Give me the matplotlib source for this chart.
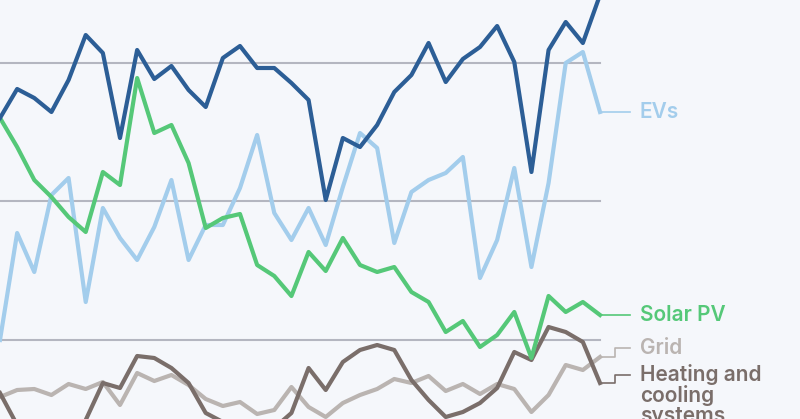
import numpy as np
import matplotlib.pyplot as plt

# values (screen units, larger = lower)
ev_other = [118, 89, 98, 112, 80, 35, 53, 138, 50, 79, 66, 90, 107, 58, 46, 68, 68, 83, 100,
            200, 138, 147, 125, 92, 75, 43, 82, 59, 47, 26, 62, 172, 50, 22, 43, -5]
evs = [340, 233, 272, 195, 178, 302, 208, 238, 260, 227, 180, 260, 225, 225, 188, 135, 213, 240, 208,
       245, 187, 133, 148, 243, 192, 180, 173, 157, 278, 240, 168, 267, 183, 63, 52, 112]
solar = [118, 147, 180, 197, 217, 232, 172, 185, 78, 133, 125, 163, 228, 218, 214, 265, 276, 296, 252,
         271, 238, 265, 272, 267, 292, 302, 332, 321, 347, 335, 312, 358, 296, 312, 302, 315]
heating = [393, 425, 435, 440, 435, 420, 383, 388, 356, 358, 368, 383, 413, 422, 428, 430, 428, 413, 368,
           390, 362, 350, 345, 350, 380, 400, 417, 412, 403, 388, 352, 360, 327, 332, 342, 383]
grid = [397, 390, 389, 395, 384, 389, 382, 405, 373, 381, 375, 385, 399, 406, 402, 414, 410, 387, 407,
        417, 403, 395, 389, 379, 383, 376, 391, 384, 394, 384, 389, 412, 395, 365, 370, 357]
gridlines = [63, 201, 340]

plt.rcParams['font.family'] = ['Inter', 'DejaVu Sans']

x = np.arange(len(evs))
step = 600 / 35

fig = plt.figure(figsize=(8, 4.19), dpi=100)
fig.patch.set_facecolor("#f5f7fb")
ax = fig.add_axes([0, 0, 1, 1])
ax.set_facecolor("#f5f7fb")
ax.set_xlim(0, 800 / step)
ax.set_ylim(419, 0)
ax.axis("off")

for g in gridlines:
    ax.plot([0, 35], [g, g], color="#b4b6c0", lw=1.5, zorder=1)

lw = 3
ax.plot(x, grid, color="#bab4b1", lw=lw, zorder=2)
ax.plot(x, heating, color="#7a6e6a", lw=lw, zorder=3)
ax.plot(x, evs, color="#a3cdec", lw=lw, zorder=3)
ax.plot(x, solar, color="#55c878", lw=lw, zorder=4)
ax.plot(x, ev_other, color="#2c5e96", lw=lw, zorder=5)

# label connectors
lx0, lx1, lxt = 35, 35 + 15 / step, 35 + 40 / step
ax.plot([lx0, lx1 + 15 / step], [evs[-1], evs[-1]], color="#a3cdec", lw=1.2)
ax.plot([lx0, lx1 + 15 / step], [solar[-1], solar[-1]], color="#55c878", lw=1.2)
ax.plot([lx0, lx1, lx1, lx1 + 15 / step], [grid[-1], grid[-1], 348, 348], color="#bab4b1", lw=1.2)
ax.plot([lx0, lx1, lx1, lx1 + 15 / step], [heating[-1], heating[-1], 375, 375], color="#7a6e6a", lw=1.2)

fs = 15
ax.text(lxt, evs[-1], "EVs", color="#a3cdec", fontsize=fs, fontweight="semibold", va="center")
ax.text(lxt, solar[-1], "Solar PV", color="#55c878", fontsize=fs, fontweight="semibold", va="center")
ax.text(lxt, 348, "Grid", color="#bab4b1", fontsize=fs, fontweight="semibold", va="center")
ax.text(lxt, 364, "Heating and\ncooling\nsystems", color="#7a6e6a", fontsize=fs,
        fontweight="semibold", va="top", linespacing=1.0)

fig.savefig("out.png", dpi=100, facecolor=fig.get_facecolor())
